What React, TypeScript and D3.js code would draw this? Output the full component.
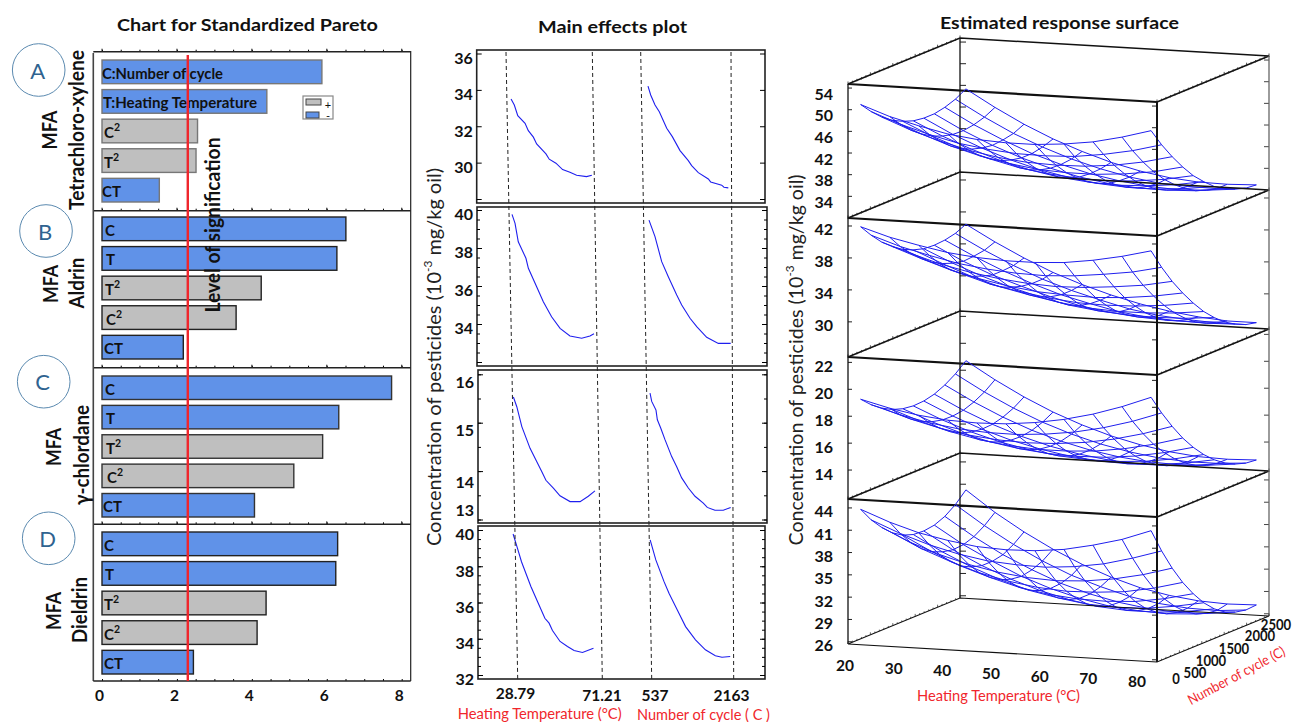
import React, { useEffect, useRef } from 'react';
import * as d3 from 'd3';

const FONT = 'Lato, "Open Sans", sans-serif';
const BLUE = '#6092e8';
const GRAY = '#bfbfbf';
const MESH = '#1f1fee';
const RED = '#f0262c';

// ---- Pareto data
const paretoTicks = [0, 2, 4, 6, 8];
const significance = 2.29;
const paretoTermsA = ['C:Number of cycle', 'T:Heating Temperature', 'C2', 'T2', 'CT'];
const paretoValuesA = [5.87, 4.4, 2.55, 2.51, 1.53];
const paretoTermsB = ['C', 'T', 'T2', 'C2', 'CT'];
const paretoValuesB = [6.51, 6.27, 4.25, 3.58, 2.17];
const paretoTermsC = ['C', 'T', 'T2', 'C2', 'CT'];
const paretoValuesC = [7.73, 6.32, 5.89, 5.12, 4.07];
const paretoTermsD = ['C', 'T', 'T2', 'C2', 'CT'];
const paretoValuesD = [6.29, 6.24, 4.38, 4.14, 2.44];
const grayTerms = ['C2', 'T2'];

// ---- Main effects data
const tempLevels = [28.79, 71.21];
const cycleLevels = [537, 2163];
const effectTicksA = [36, 34, 32, 30, 28];
const effectTicksB = [40, 38, 36, 34, 32];
const effectTicksC = [16, 15, 14, 13];
const effectTicksD = [40, 38, 36, 34, 32];
const effectLabelsA = [36, 34, 32, 30];
const effectLabelsB = [40, 38, 36, 34];
const effectLabelsC = [16, 15, 14, 13];
const effectLabelsD = [40, 38, 36, 34, 32];

const tempXA = [30.6, 32.2, 33.9, 37.5, 39.1, 41.6, 43.2, 47.8, 49.4, 52.7, 56.0, 59.6, 62.9, 67.8, 70.4];
const tempYA = [33.5, 33.17, 32.58, 32.16, 31.76, 31.4, 31.03, 30.48, 30.19, 29.97, 29.62, 29.47, 29.31, 29.23, 29.31];
const cycleXA = [646, 695, 774, 852, 987, 1089, 1229, 1380, 1441, 1562, 1744, 1787, 1988, 2029, 2108];
const cycleYA = [34.21, 33.72, 33.17, 32.8, 31.89, 31.43, 30.66, 30.11, 29.84, 29.45, 29.1, 28.94, 28.76, 28.65, 28.61];
const tempXB = [29.6, 31.1, 32.7, 36.5, 37.7, 41.8, 45.1, 49.2, 53.4, 58.3, 64.1, 68.2, 70.2];
const tempYB = [39.77, 39.3, 38.33, 37.46, 36.93, 35.96, 35.17, 34.38, 33.77, 33.37, 33.25, 33.37, 33.49];
const cycleXB = [615, 727, 852, 975, 1132, 1225, 1380, 1505, 1691, 1908, 2139];
const cycleYB = [39.47, 38.6, 37.28, 36.49, 35.53, 35, 34.3, 33.86, 33.3, 32.98, 32.98];
const tempXC = [28.8, 30.5, 33, 37.1, 40.4, 42.9, 45, 48.7, 52, 57, 62, 66.1, 69.4];
const tempYC = [15.53, 15.33, 14.92, 14.47, 14.2, 13.99, 13.81, 13.65, 13.49, 13.37, 13.37, 13.48, 13.59];
const cycleXC = [583, 615, 697, 723, 787, 869, 997, 1093, 1188, 1315, 1443, 1601, 1677, 1824, 1983, 2124];
const cycleYC = [15.61, 15.44, 15.26, 15.06, 14.89, 14.65, 14.3, 14.09, 13.86, 13.65, 13.48, 13.34, 13.25, 13.19, 13.19, 13.25];
const tempXD = [27.2, 29.4, 31.4, 36.1, 39.4, 43.1, 45.2, 46.9, 50.7, 54.4, 57.7, 61.9, 67.4];
const tempYD = [39.78, 38.99, 38.25, 36.88, 36.05, 35.13, 34.86, 34.45, 33.85, 33.57, 33.35, 33.24, 33.48];
const cycleXD = [533, 644, 805, 902, 1065, 1227, 1421, 1615, 1810, 1940, 2101];
const cycleYD = [39.45, 38.35, 37.15, 36.51, 35.59, 34.67, 33.94, 33.39, 33.06, 32.98, 33.02];

// ---- Response surface data, one row per cycle value, one column per temperature
const surfaceTemps = [21.8, 27.44, 33.08, 38.72, 44.36, 50, 55.64, 61.28, 66.92, 72.56, 78.2];
const surfaceCycles = [75, 310, 545, 780, 1015, 1250, 1485, 1720, 1955, 2190, 2425];
const tempAxisTicks = [20, 30, 40, 50, 60, 70, 80];
const cycleAxisTicks = [0, 500, 1000, 1500, 2000, 2500];
const zTicksA = [54, 50, 46, 42, 38, 34];
const zTicksB = [42, 38, 34, 30];
const zTicksC = [22, 20, 18, 16, 14];
const zTicksD = [44, 41, 38, 35, 32, 29, 26];

const surfaceA = [
  [50.8, 48.9, 47.5, 46.3, 45.6, 45.3, 45.3, 45.7, 46.4, 47.6, 49.1],
  [48.7, 46.7, 45.1, 43.8, 43.0, 42.5, 42.4, 42.6, 43.3, 44.3, 45.7],
  [46.9, 44.8, 43.1, 41.7, 40.7, 40.1, 39.9, 40.0, 40.5, 41.4, 42.7],
  [45.5, 43.3, 41.4, 39.9, 38.8, 38.0, 37.7, 37.7, 38.1, 38.8, 40.0],
  [44.5, 42.1, 40.1, 38.5, 37.2, 36.4, 35.9, 35.7, 36.0, 36.6, 37.6],
  [43.8, 41.3, 39.2, 37.4, 36.0, 35.0, 34.4, 34.1, 34.3, 34.8, 35.7],
  [43.5, 40.8, 38.6, 36.7, 35.2, 34.1, 33.3, 32.9, 32.9, 33.3, 34.0],
  [43.5, 40.7, 38.3, 36.3, 34.7, 33.4, 32.5, 32.0, 31.9, 32.1, 32.8],
  [43.9, 41.0, 38.5, 36.3, 34.6, 33.2, 32.2, 31.5, 31.2, 31.4, 31.9],
  [44.6, 41.6, 38.9, 36.7, 34.8, 33.3, 32.1, 31.3, 31.0, 30.9, 31.3],
  [45.7, 42.6, 39.8, 37.4, 35.4, 33.7, 32.4, 31.5, 31.0, 30.9, 31.1],
];
const surfaceB = [
  [41.8, 40.7, 39.9, 39.2, 38.8, 38.6, 38.6, 38.8, 39.3, 40.0, 40.9],
  [40.2, 39.0, 38.1, 37.3, 36.8, 36.5, 36.4, 36.6, 37.0, 37.5, 38.3],
  [38.8, 37.6, 36.5, 35.7, 35.1, 34.7, 34.5, 34.6, 34.9, 35.3, 36.0],
  [37.7, 36.4, 35.2, 34.3, 33.6, 33.1, 32.9, 32.8, 33.0, 33.4, 34.0],
  [36.8, 35.4, 34.2, 33.1, 32.4, 31.8, 31.4, 31.3, 31.4, 31.7, 32.2],
  [36.2, 34.7, 33.3, 32.2, 31.4, 30.7, 30.2, 30.0, 30.0, 30.2, 30.6],
  [35.8, 34.2, 32.8, 31.6, 30.6, 29.8, 29.3, 29.0, 28.9, 29.0, 29.3],
  [35.7, 33.9, 32.4, 31.2, 30.1, 29.2, 28.6, 28.2, 28.0, 28.0, 28.2],
  [35.8, 34.0, 32.4, 31.0, 29.8, 28.9, 28.1, 27.6, 27.4, 27.3, 27.4],
  [36.1, 34.2, 32.5, 31.0, 29.8, 28.8, 27.9, 27.3, 27.0, 26.8, 26.8],
  [36.7, 34.7, 32.9, 31.3, 30.0, 28.9, 28.0, 27.3, 26.8, 26.5, 26.5],
];
const surfaceC = [
  [19.2, 18.66, 18.26, 18.02, 17.94, 18.0, 18.22, 18.58, 19.1, 19.78, 20.6],
  [18.47, 17.85, 17.38, 17.06, 16.91, 16.89, 17.04, 17.32, 17.77, 18.37, 19.12],
  [17.9, 17.21, 16.66, 16.27, 16.04, 15.95, 16.02, 16.23, 16.6, 17.13, 17.8],
  [17.47, 16.7, 16.08, 15.61, 15.31, 15.14, 15.14, 15.27, 15.57, 16.02, 16.61],
  [17.21, 16.37, 15.67, 15.13, 14.75, 14.51, 14.43, 14.48, 14.7, 15.08, 15.6],
  [17.1, 16.18, 15.41, 14.79, 14.34, 14.02, 13.86, 13.85, 13.99, 14.3, 14.74],
  [17.14, 16.15, 15.3, 14.61, 14.08, 13.68, 13.45, 13.36, 13.43, 13.66, 14.03],
  [17.33, 16.26, 15.34, 14.57, 13.96, 13.5, 13.19, 13.03, 13.02, 13.17, 13.47],
  [17.69, 16.55, 15.55, 14.7, 14.02, 13.48, 13.1, 12.86, 12.78, 12.85, 13.07],
  [18.19, 16.97, 15.9, 14.98, 14.22, 13.61, 13.15, 12.83, 12.67, 12.68, 12.82],
  [18.85, 17.56, 16.41, 15.41, 14.58, 13.89, 13.36, 12.97, 12.73, 12.66, 12.73],
];
const surfaceD = [
  [43.7, 42.2, 41.0, 40.2, 39.6, 39.4, 39.5, 39.9, 40.7, 41.7, 43.1],
  [41.7, 40.1, 38.8, 37.8, 37.1, 36.8, 36.7, 37.0, 37.6, 38.6, 39.8],
  [40.1, 38.3, 36.9, 35.8, 35.0, 34.5, 34.3, 34.5, 35.0, 35.8, 36.9],
  [38.8, 36.9, 35.4, 34.1, 33.2, 32.6, 32.3, 32.4, 32.7, 33.4, 34.4],
  [37.9, 35.9, 34.2, 32.9, 31.8, 31.1, 30.7, 30.6, 30.8, 31.4, 32.3],
  [37.4, 35.3, 33.5, 32.0, 30.8, 30.0, 29.4, 29.2, 29.3, 29.8, 30.5],
  [37.3, 35.0, 33.1, 31.5, 30.2, 29.2, 28.5, 28.2, 28.2, 28.5, 29.1],
  [37.5, 35.1, 33.1, 31.3, 29.9, 28.8, 28.0, 27.6, 27.4, 27.6, 28.1],
  [38.1, 35.6, 33.4, 31.6, 30.0, 28.8, 27.9, 27.3, 27.0, 27.1, 27.5],
  [39.1, 36.5, 34.2, 32.2, 30.5, 29.2, 28.1, 27.4, 27.0, 26.9, 27.2],
  [40.5, 37.7, 35.3, 33.2, 31.4, 29.9, 28.7, 27.9, 27.4, 27.2, 27.3],
];

type Sel = d3.Selection<any, any, any, any>;

function label(g: Sel, str: string, x: number, y: number, o: any = {}) {
  const t = g.append('text')
    .attr('x', x).attr('y', y)
    .attr('font-family', FONT)
    .attr('font-size', o.size || 15)
    .attr('font-weight', o.weight || 'normal')
    .attr('fill', o.fill || '#111')
    .attr('text-anchor', o.anchor || 'middle')
    .attr('dominant-baseline', 'central');
  if (o.rotate) t.attr('transform', `rotate(${o.rotate} ${x} ${y})`);
  if (o.length) t.attr('textLength', o.length).attr('lengthAdjust', 'spacingAndGlyphs');
  t.text(str);
  return t;
}

function drawPareto(root: Sel) {
  const x = d3.scaleLinear().domain([0, 8]).range([102, 401.7]);
  const panels = [
    { terms: paretoTermsA, values: paretoValuesA, top: 51.7, rows: [60, 202], sw: '#777', lab: [102, 103, 104, 104, 102] },
    { terms: paretoTermsB, values: paretoValuesB, top: 210.7, rows: [217, 359], sw: '#222', lab: [105, 106, 105, 106, 104] },
    { terms: paretoTermsC, values: paretoValuesC, top: 367.7, rows: [376, 517], sw: '#333', lab: [105, 106, 106, 107, 103] },
    { terms: paretoTermsD, values: paretoValuesD, top: 524.3, rows: [532, 674], sw: '#222', lab: [104, 105, 104, 104, 104] },
  ];
  const bottom = 681;
  const halfTicks = d3.range(0, 8.01, 0.5);
  const longLabel: Record<string, number> = { 'C:Number of cycle': 121, 'T:Heating Temperature': 154 };

  panels.forEach((p) => {
    const y = d3.scaleBand<number>().domain(d3.range(p.terms.length)).range(p.rows as [number, number]).paddingInner(0.2);
    const g = root.append('g');
    g.selectAll('rect').data(p.values).join('rect')
      .attr('x', x(0)).attr('y', (_: number, i: number) => y(i)!)
      .attr('width', (d: number) => x(d) - x(0)).attr('height', y.bandwidth())
      .attr('fill', (_: number, i: number) => grayTerms.includes(p.terms[i]) ? GRAY : BLUE)
      .attr('stroke', p.sw).attr('stroke-width', 1.4);
    p.terms.forEach((term, i) => {
      const long = term.length > 2;
      const t = label(g, long ? term : term[0], p.lab[i], y(i)! + y.bandwidth() / 2 + 1, { size: 15, weight: 700, anchor: 'start', length: longLabel[term] });
      if (term.endsWith('2') && !long) {
        t.append('tspan').attr('dy', -5).attr('font-size', 10.5).text('2');
      } else if (term === 'CT') {
        t.text('CT');
      }
    });
    // tick row along the panel's upper edge
    g.append('g').attr('transform', `translate(0,${p.top})`)
      .call(d3.axisTop(x).tickValues(halfTicks).tickSize(2).tickFormat(() => '') as any)
      .call((a: Sel) => a.select('.domain').remove());
    g.append('line').attr('x1', 93.3).attr('x2', 410.7).attr('y1', p.top).attr('y2', p.top).attr('stroke', '#222').attr('stroke-width', 1.4);
    g.selectAll(null).data(paretoTicks).join('line')
      .attr('x1', (d: number) => x(d)).attr('x2', (d: number) => x(d))
      .attr('y1', p.top - 3).attr('y2', p.top)
      .attr('stroke', '#222');
  });

  root.append('line').attr('x1', 93.3).attr('x2', 93.3).attr('y1', 53).attr('y2', bottom).attr('stroke', '#444').attr('stroke-width', 1.6);
  root.append('line').attr('x1', 410.7).attr('x2', 410.7).attr('y1', 51).attr('y2', bottom).attr('stroke', '#222').attr('stroke-width', 1.2);

  const axis = root.append('g').attr('transform', `translate(0,${bottom})`);
  axis.call(d3.axisTop(x).tickValues(halfTicks).tickSize(2).tickFormat(() => '') as any)
    .call((a: Sel) => a.select('.domain').remove());
  root.append('line').attr('x1', 93.3).attr('x2', 410.7).attr('y1', bottom).attr('y2', bottom).attr('stroke', '#222').attr('stroke-width', 1.4);
  paretoTicks.forEach((t) => label(root, String(t), x(t) - 2.5, 695, { size: 15.5, weight: 700 }));

  // significance line sits over the bars and their labels
  root.append('line').attr('x1', x(significance)).attr('x2', x(significance))
    .attr('y1', 55).attr('y2', bottom).attr('stroke', RED).attr('stroke-width', 2.4);
  label(root, 'Level of signification', 212, 225, { size: 20, weight: 700, rotate: -90, length: 175 });

  // legend
  const leg = root.append('g');
  leg.append('rect').attr('x', 303).attr('y', 96).attr('width', 30).attr('height', 23).attr('fill', '#fff').attr('stroke', '#888').attr('stroke-width', 1.2);
  leg.append('rect').attr('x', 306).attr('y', 99).attr('width', 15).attr('height', 6).attr('fill', GRAY).attr('stroke', '#444');
  leg.append('rect').attr('x', 306).attr('y', 112).attr('width', 13).attr('height', 6).attr('fill', BLUE).attr('stroke', '#444');
  label(leg, '+', 328, 104, { size: 11 });
  label(leg, '-', 328, 115, { size: 11 });

  // panel letters and compound names
  const letters = [['A', 38.7, 70], ['B', 46, 231], ['C', 43.7, 381.7], ['D', 48.7, 538.3]] as [string, number, number][];
  letters.forEach(([s, cx, cy]) => {
    root.append('circle').attr('cx', cx).attr('cy', cy).attr('r', 26.3).attr('fill', '#fff').attr('stroke', '#5b8ab0').attr('stroke-width', 1);
    label(root, s, cx - 1, cy, { size: 22, fill: '#2f6390' });
  });
  const names = [
    ['MFA', 48, 130, 39], ['Tetrachloro-xylene', 75, 130, 160],
    ['MFA', 49, 284, 38], ['Aldrin', 75, 283, 51],
    ['MFA', 52, 447, 38], ['\u03b3-chlordane', 80, 455, 100],
    ['MFA', 52, 611, 38], ['Dieldrin', 78, 610, 66],
  ] as [string, number, number, number][];
  names.forEach(([s, nx, ny, len]) => label(root, s, nx, ny, { size: 21, weight: 700, rotate: -90, length: len }));

  label(root, 'Chart for Standardized Pareto', 247.5, 24, { size: 17.5, weight: 700, length: 261 });
}

function drawEffects(root: Sel) {
  const yTop = 52;
  const yBottom = 679;
  const frac = d3.scaleLinear().domain([yTop, yBottom]).range([0, 1]);
  // the dashed factor levels run slightly skewed through all four panels
  const tempAt = (py: number) => d3.scaleLinear().domain(tempLevels).range([
    d3.interpolateNumber(506, 517.7)(frac(py)), d3.interpolateNumber(592.3, 602.3)(frac(py)),
  ]);
  const cycleAt = (py: number) => d3.scaleLinear().domain(cycleLevels).range([
    d3.interpolateNumber(640.7, 651.7)(frac(py)), d3.interpolateNumber(731, 733.7)(frac(py)),
  ]);

  const panels = [
    { left: 476.7, right: 765, top: 50, bottom: 203, dom: [36, 28], rng: [53.5, 199], ticks: effectTicksA, labels: effectLabelsA, nudge: {}, minor: false, tx: tempXA, ty: tempYA, cx: cycleXA, cy: cycleYA },
    { left: 477, right: 767, top: 207, bottom: 366, dom: [40, 32], rng: [210, 362], ticks: effectTicksB, labels: effectLabelsB, nudge: {}, minor: true, tx: tempXB, ty: tempYB, cx: cycleXB, cy: cycleYB },
    { left: 478, right: 767, top: 370, bottom: 523, dom: [16, 13], rng: [374.3, 519.5], ticks: effectTicksC, labels: effectLabelsC, nudge: { 16: 3, 15: 3, 14: 6, 13: -14 }, minor: true, tx: tempXC, ty: tempYC, cx: cycleXC, cy: cycleYC },
    { left: 478, right: 765, top: 526, bottom: 679, dom: [40, 32], rng: [530, 675], ticks: effectTicksD, labels: effectLabelsD, nudge: {}, minor: true, tx: tempXD, ty: tempYD, cx: cycleXD, cy: cycleYD },
  ];

  panels.forEach((p) => {
    const g = root.append('g');
    const y = d3.scaleLinear().domain(p.dom).range(p.rng);
    const mid = (p.top + p.bottom) / 2;
    g.append('rect').attr('x', p.left).attr('y', p.top).attr('width', p.right - p.left).attr('height', p.bottom - p.top)
      .attr('fill', 'none').attr('stroke', '#222').attr('stroke-width', 1.6);
    const minorTicks = d3.range(p.dom[1], p.dom[0] + 0.01, 0.5).filter((v) => y(v) > p.top && y(v) < p.bottom);
    if (p.minor) {
      g.append('g').attr('transform', `translate(${p.left},0)`)
        .call(d3.axisLeft(y).tickValues(minorTicks).tickSize(-3).tickFormat(() => '') as any)
        .call((a: Sel) => a.select('.domain').remove());
      g.append('g').attr('transform', `translate(${p.right},0)`)
        .call(d3.axisRight(y).tickValues(minorTicks).tickSize(-3).tickFormat(() => '') as any)
        .call((a: Sel) => a.select('.domain').remove());
    }
    const left = g.append('g').attr('transform', `translate(${p.left},0)`)
      .call(d3.axisLeft(y).tickValues(p.ticks).tickSize(-5).tickPadding(4)
        .tickFormat(((d: number) => (p.labels.includes(d) ? String(d) : '')) as any) as any);
    left.select('.domain').remove();
    left.selectAll('text').attr('font-family', FONT).attr('font-size', 16).attr('font-weight', 700).attr('fill', '#111').attr('dy', '0.62em')
      .attr('transform', (d: any) => `translate(0,${(p.nudge as any)[d] || 0})`);
    g.append('g').attr('transform', `translate(${p.right},0)`)
      .call(d3.axisRight(y).tickValues(p.ticks).tickSize(-5).tickFormat(() => '') as any)
      .call((a: Sel) => a.select('.domain').remove());

    const xT = tempAt(mid);
    const xC = cycleAt(mid);
    const line = d3.line<[number, number]>().x((d) => d[0]).y((d) => y(d[1]));
    g.append('path').attr('d', line(p.tx.map((t, i) => [xT(t), p.ty[i]] as [number, number]))).attr('fill', 'none').attr('stroke', MESH).attr('stroke-width', 1.1);
    g.append('path').attr('d', line(p.cx.map((c, i) => [xC(c), p.cy[i]] as [number, number]))).attr('fill', 'none').attr('stroke', MESH).attr('stroke-width', 1.1);
  });

  // dashed level guides over the panels
  const guides = [
    ...tempLevels.map((t) => [tempAt(yTop)(t), tempAt(yBottom)(t)]),
    ...cycleLevels.map((c) => [cycleAt(yTop)(c), cycleAt(yBottom)(c)]),
  ];
  root.selectAll(null).data(guides).join('line')
    .attr('x1', (d: number[]) => d[0]).attr('x2', (d: number[]) => d[1])
    .attr('y1', yTop).attr('y2', yBottom)
    .attr('stroke', '#222').attr('stroke-width', 1).attr('stroke-dasharray', '4 3');

  label(root, '28.79', 515.5, 693, { size: 15.5, weight: 700 });
  label(root, '71.21', 602, 695, { size: 15.5, weight: 700 });
  label(root, '537', 655, 695, { size: 15.5, weight: 700 });
  label(root, '2163', 731.5, 695, { size: 15.5, weight: 700 });
  label(root, 'Heating Temperature (\u00b0C)', 539.7, 713, { size: 14.5, fill: RED, length: 164 });
  label(root, 'Number of cycle ( C )', 703.5, 714, { size: 14.5, fill: RED, length: 133 });
  label(root, 'Main effects plot', 612.5, 26, { size: 17.5, weight: 700, length: 149 });
}

function yTitle(root: Sel, x: number, y: number, len: number) {
  const t = label(root, 'Concentration of pesticides (10', x, y, { size: 20, rotate: -90, fill: '#222' });
  t.append('tspan').attr('dy', -6).attr('font-size', 12).text('-3');
  t.append('tspan').attr('dy', 6).text(' mg/kg oil)');
  t.attr('textLength', len).attr('lengthAdjust', 'spacingAndGlyphs');
}

function drawSurface(root: Sel) {
  // oblique axes shared by the four stacked boxes
  const xTemp = d3.scaleLinear().domain([20, 80]).range([0, 309]);
  const xCycle = d3.scaleLinear().domain([0, 2500]).range([0, 112]);
  const dyTemp = d3.scaleLinear().domain([20, 80]).range([0, 18]);
  const dyCycle = d3.scaleLinear().domain([0, 2500]).range([0, -46]);
  const x0 = 848;

  const boxes = [
    { floor: 218, top: 84, dom: [30, 54.75], rows: surfaceA, ticks: zTicksA, labelShift: 5 },
    { floor: 357, top: 218, dom: [25.6, 43], rows: surfaceB, ticks: zTicksB, labelShift: 3 },
    { floor: 499, top: 357, dom: [11.85, 22.4], rows: surfaceC, ticks: zTicksC, labelShift: 3 },
    { floor: 644, top: 499, dom: [25.7, 45.2], rows: surfaceD, ticks: zTicksD, labelShift: 3 },
  ];

  const px = (t: number, c: number) => x0 + xTemp(t) + xCycle(c);
  const oblique = (floor: number, t: number, c: number) => floor + dyTemp(t) + dyCycle(c);

  boxes.forEach((b) => {
    const g = root.append('g');
    const z = d3.scaleLinear().domain(b.dom).range([b.floor, b.top]);
    const project = (t: number, c: number, v: number): [number, number] => [px(t, c), z(v) + dyTemp(t) + dyCycle(c)];
    const line = d3.line();

    // top frame of this box (its floor is the frame of the next one)
    const corners: [number, number][] = [[20, 0], [20, 2500], [80, 2500], [80, 0]];
    g.append('path').attr('d', line(corners.map(([t, c]) => [px(t, c), oblique(b.top, t, c)]))).attr('fill', 'none').attr('stroke', '#111').attr('stroke-width', 1.5);
    g.append('line').attr('x1', px(20, 0)).attr('x2', px(80, 0)).attr('y1', oblique(b.top, 20, 0)).attr('y2', oblique(b.top, 80, 0))
      .attr('stroke', '#111').attr('stroke-width', 2.2);

    // hairy depth ticks
    const depth = d3.range(0, 2501, 100);
    [20, 80].forEach((t) => {
      g.selectAll(null).data(depth).join('line')
        .attr('x1', (c: number) => px(t, c)).attr('x2', (c: number) => px(t, c))
        .attr('y1', (c: number) => oblique(b.top, t, c) - (c % 500 === 0 ? 2.5 : 1.5))
        .attr('y2', (c: number) => oblique(b.top, t, c) + 1)
        .attr('stroke', '#222').attr('stroke-width', 0.8);
    });

    // z ticks and labels
    b.ticks.forEach((v) => {
      g.append('line').attr('x1', x0).attr('x2', x0 + 4).attr('y1', z(v)).attr('y2', z(v)).attr('stroke', '#222');
      g.append('line').attr('x1', x0 + 112).attr('x2', x0 + 118).attr('y1', z(v) - 46).attr('y2', z(v) - 46).attr('stroke', '#222');
      g.append('line').attr('x1', x0 + 309 - 5).attr('x2', x0 + 309 + 1).attr('y1', z(v) + 18).attr('y2', z(v) + 18).attr('stroke', '#222');
      g.append('line').attr('x1', x0 + 421 - 5).attr('x2', x0 + 421).attr('y1', z(v) - 28).attr('y2', z(v) - 28).attr('stroke', '#444');
      label(g, String(v), 833, z(v) + b.labelShift, { size: 16, weight: 700, anchor: 'end' });
    });

    // mesh: a polyline along each temperature and along each cycle value
    const mesh = g.append('g').attr('fill', 'none').attr('stroke', MESH).attr('stroke-width', 1);
    b.rows.forEach((row, j) => {
      mesh.append('path').attr('d', line(row.map((v, i) => project(surfaceTemps[i], surfaceCycles[j], v))));
    });
    surfaceTemps.forEach((t, i) => {
      mesh.append('path').attr('d', line(surfaceCycles.map((c, j) => project(t, c, b.rows[j][i]))));
    });
  });

  // verticals and the floor of the lowest box
  const floor = 644;
  const uprights: [number, number, number, string, number][] = [
    [20, 0, 84, '#111', 1.3], [20, 2500, 84, '#111', 1.3], [80, 0, 84, '#111', 2], [80, 2500, 84, '#666', 1.3],
  ];
  uprights.forEach(([t, c, top, col, w]) => {
    root.append('line').attr('x1', px(t, c)).attr('x2', px(t, c))
      .attr('y1', oblique(top, t, c)).attr('y2', oblique(floor, t, c))
      .attr('stroke', col).attr('stroke-width', w);
  });
  const base: [number, number][] = [[20, 0], [80, 0], [80, 2500], [20, 2500], [20, 0]];
  root.append('path').attr('d', d3.line()(base.map(([t, c]) => [px(t, c), oblique(floor, t, c)])))
    .attr('fill', 'none').attr('stroke', '#111').attr('stroke-width', 1.1);
  [20, 80].forEach((t) => {
    root.selectAll(null).data(d3.range(0, 2501, 100)).join('line')
      .attr('x1', (c: number) => px(t, c)).attr('x2', (c: number) => px(t, c))
      .attr('y1', (c: number) => oblique(floor, t, c) - (c % 500 === 0 ? 2.5 : 1.5))
      .attr('y2', (c: number) => oblique(floor, t, c))
      .attr('stroke', '#222').attr('stroke-width', 0.7);
  });

  // floor axis labels
  const labelX = d3.scaleLinear().domain([20, 80]).range([845, 1137]);
  const labelY = d3.scaleLinear().domain([20, 80]).range([665, 681]);
  tempAxisTicks.forEach((t) => label(root, String(t), labelX(t), labelY(t), { size: 15.5, weight: 700 }));
  const cycX = d3.scaleLinear().domain(cycleAxisTicks).range([1176, 1195, 1211, 1234, 1260, 1276]);
  const cycY = d3.scaleLinear().domain(cycleAxisTicks).range([678, 672, 660, 648, 635, 624]);
  cycleAxisTicks.forEach((c) => label(root, String(c), cycX(c), cycY(c), { size: 14.5, weight: 700, length: String(c).length * 7.6 }));
  label(root, 'Heating Temperature (\u00b0C)', 998.5, 695, { size: 14.5, fill: RED, length: 163 });
  label(root, 'Number of cycle (C)', 1236, 675, { size: 14, fill: RED, rotate: -28, length: 108 });
  label(root, 'Estimated response surface', 1059.5, 22, { size: 17.5, weight: 700, length: 239 });
}

export default function App() {
  const ref = useRef<SVGSVGElement>(null);

  useEffect(() => {
    const root = d3.select(ref.current);
    root.selectAll('*').remove();
    root.append('rect').attr('width', 1293).attr('height', 722).attr('fill', '#fff');
    drawPareto(root);
    drawEffects(root);
    drawSurface(root);
    yTitle(root, 433, 357, 378);
    yTitle(root, 795, 360, 371);
  }, []);

  return <svg ref={ref} width={1293} height={722} style={{ position: 'absolute', left: 0, top: 0, display: 'block' }} />;
}
